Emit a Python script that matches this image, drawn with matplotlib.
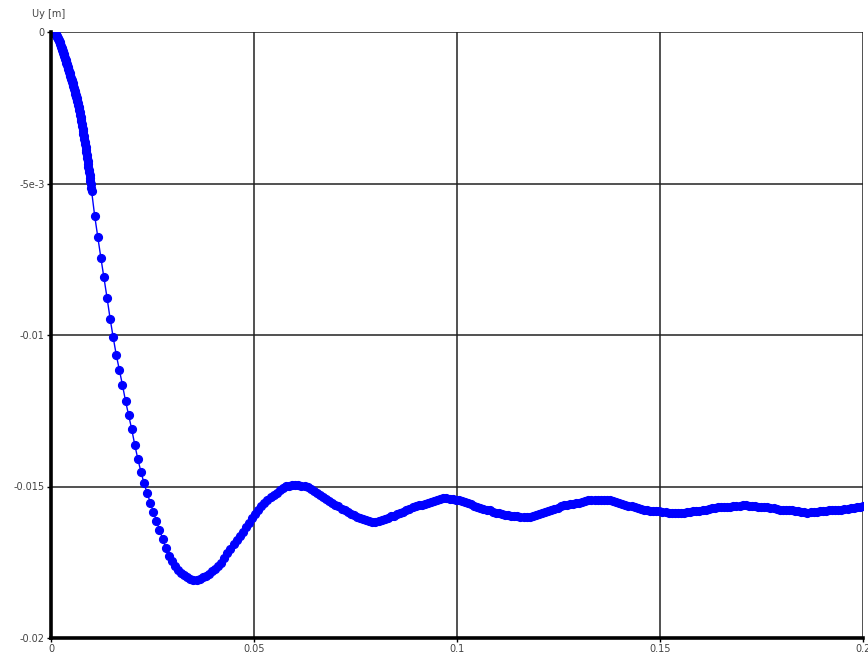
import numpy as np
import matplotlib
matplotlib.use("Agg")
import matplotlib.pyplot as plt

# Uy displacement history, first 10 ms written at a fine solver step
t_start = np.arange(100) * 0.0001
uy_start = [
    0.0, -0.000001, -0.000002, -0.000004, -0.000006, -0.000010, -0.000014, -0.000018, -0.000024, -0.000031,
    -0.000040, -0.000058, -0.000078, -0.000102, -0.000126, -0.000150, -0.000178, -0.000206, -0.000236, -0.000268,
    -0.000300, -0.000336, -0.000372, -0.000410, -0.000450, -0.000490, -0.000526, -0.000562, -0.000600, -0.000640,
    -0.000680, -0.000720, -0.000760, -0.000802, -0.000846, -0.000890, -0.000930, -0.000970, -0.001012, -0.001056,
    -0.001100, -0.001144, -0.001188, -0.001232, -0.001276, -0.001320, -0.001368, -0.001416, -0.001462, -0.001506,
    -0.001550, -0.001598, -0.001646, -0.001694, -0.001742, -0.001790, -0.001838, -0.001886, -0.001934, -0.001982,
    -0.002030, -0.002082, -0.002134, -0.002186, -0.002238, -0.002290, -0.002346, -0.002402, -0.002460, -0.002520,
    -0.002580, -0.002650, -0.002724, -0.002798, -0.002874, -0.002950, -0.003030, -0.003110, -0.003190, -0.003270,
    -0.003350, -0.003438, -0.003526, -0.003614, -0.003702, -0.003790, -0.003882, -0.003974, -0.004066, -0.004158,
    -0.004250, -0.004346, -0.004442, -0.004538, -0.004634, -0.004730, -0.004830, -0.004930, -0.005030, -0.005140,
]

# rest of the run, coarser step
t_main = 0.01 + np.arange(251) * 0.00076
uy_main = [
    -0.00525, -0.00607, -0.00676, -0.00745, -0.00810, -0.00877, -0.00946, -0.01008, -0.01066, -0.01116,
    -0.01165, -0.01218, -0.01265, -0.01311, -0.01363, -0.01410, -0.01452, -0.01489, -0.01522, -0.01553,
    -0.01583, -0.01613, -0.01644, -0.01673, -0.01702, -0.01728, -0.01747, -0.01763, -0.01776, -0.01785,
    -0.01793, -0.01800, -0.01805, -0.01809, -0.01807, -0.01804, -0.01800, -0.01794, -0.01788, -0.01780,
    -0.01773, -0.01763, -0.01751, -0.01736, -0.01721, -0.01706, -0.01691, -0.01677, -0.01664, -0.01650,
    -0.01634, -0.01619, -0.01604, -0.01591, -0.01577, -0.01564, -0.01553, -0.01545, -0.01536, -0.01528,
    -0.01520, -0.01512, -0.01505, -0.01499, -0.01497, -0.01496, -0.01495, -0.01495, -0.01497, -0.01499,
    -0.01503, -0.01507, -0.01514, -0.01520, -0.01527, -0.01534, -0.01541, -0.01547, -0.01554, -0.01560,
    -0.01566, -0.01573, -0.01579, -0.01585, -0.01590, -0.01595, -0.01600, -0.01605, -0.01608, -0.01611,
    -0.01614, -0.01616, -0.01617, -0.01614, -0.01610, -0.01607, -0.01603, -0.01599, -0.01596, -0.01592,
    -0.01589, -0.01584, -0.01579, -0.01573, -0.01568, -0.01565, -0.01562, -0.01560, -0.01558, -0.01555,
    -0.01551, -0.01547, -0.01544, -0.01540, -0.01539, -0.01538, -0.01540, -0.01542, -0.01544, -0.01545,
    -0.01547, -0.01550, -0.01554, -0.01559, -0.01563, -0.01567, -0.01570, -0.01573, -0.01576, -0.01579,
    -0.01583, -0.01586, -0.01589, -0.01592, -0.01594, -0.01595, -0.01596, -0.01597, -0.01598, -0.01600,
    -0.01601, -0.01602, -0.01600, -0.01596, -0.01593, -0.01590, -0.01588, -0.01585, -0.01582, -0.01579,
    -0.01575, -0.01570, -0.01566, -0.01561, -0.01560, -0.01559, -0.01557, -0.01556, -0.01554, -0.01551,
    -0.01549, -0.01546, -0.01545, -0.01545, -0.01545, -0.01545, -0.01545, -0.01546, -0.01546, -0.01547,
    -0.01551, -0.01554, -0.01558, -0.01561, -0.01563, -0.01565, -0.01568, -0.01571, -0.01573, -0.01576,
    -0.01578, -0.01580, -0.01581, -0.01582, -0.01582, -0.01583, -0.01584, -0.01586, -0.01587, -0.01588,
    -0.01589, -0.01587, -0.01586, -0.01584, -0.01583, -0.01582, -0.01581, -0.01580, -0.01578, -0.01576,
    -0.01574, -0.01572, -0.01570, -0.01569, -0.01568, -0.01568, -0.01567, -0.01567, -0.01566, -0.01565,
    -0.01563, -0.01562, -0.01562, -0.01563, -0.01565, -0.01566, -0.01567, -0.01567, -0.01568, -0.01569,
    -0.01570, -0.01572, -0.01574, -0.01576, -0.01578, -0.01578, -0.01579, -0.01579, -0.01580, -0.01581,
    -0.01583, -0.01584, -0.01586, -0.01585, -0.01584, -0.01583, -0.01581, -0.01580, -0.01580, -0.01579,
    -0.01579, -0.01578, -0.01577, -0.01576, -0.01575, -0.01573, -0.01572, -0.01571, -0.01569, -0.01568,
    -0.01566,
]

x_ticks = [0, 0.05, 0.1, 0.15, 0.2]
x_labels = ["0", "0.05", "0.1", "0.15", "0.2"]
y_ticks = [0, -0.005, -0.01, -0.015, -0.02]
y_labels = ["0", "-5e-3", "-0.01", "-0.015", "-0.02"]

time = np.concatenate([t_start, t_main])
uy = np.array(uy_start + uy_main)

fig = plt.figure(figsize=(8.68, 6.58), dpi=100)
ax = fig.add_axes([51 / 868, 20 / 658, 812 / 868, 606 / 658])

ax.plot(time, uy, color="#0000ff", lw=1.0, marker="o", ms=5.6,
        mec="#0000ff", mfc="#0000ff", zorder=3)

ax.set_xlim(0, 0.2)
ax.set_ylim(-0.02, 0)
ax.set_xticks(x_ticks)
ax.set_xticklabels(x_labels)
ax.set_yticks(y_ticks)
ax.set_yticklabels(y_labels)

ax.grid(True, color="#222222", lw=1.1)
ax.set_axisbelow(True)
for side in ("top", "right"):
    ax.spines[side].set_visible(False)
for side in ("left", "bottom"):
    ax.spines[side].set_linewidth(2.6)
    ax.spines[side].set_color("black")
    ax.spines[side].set_zorder(4)

ax.tick_params(labelsize=7, colors="black", labelcolor="#444444",
               length=3, width=1, pad=1.5)

fig.text(32 / 868, 1 - 14 / 658, "Uy [m]", fontsize=7, color="#444444",
         ha="left", va="center")

fig.savefig("out.png", dpi=100, facecolor="white")
